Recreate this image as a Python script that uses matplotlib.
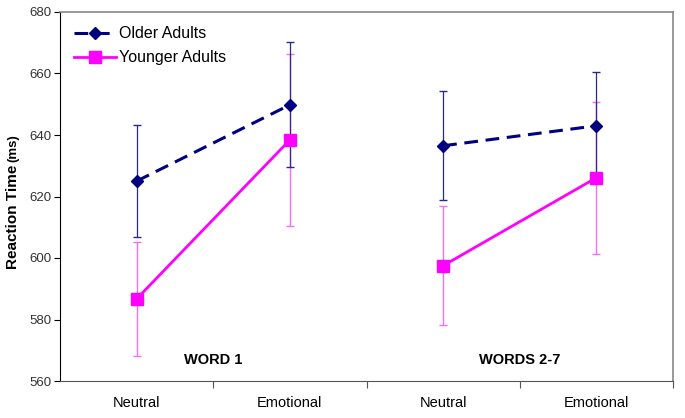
import matplotlib
matplotlib.use("Agg")
import matplotlib.pyplot as plt
import numpy as np

plt.rcParams['font.family'] = ['Liberation Sans', 'DejaVu Sans']

categories = ["Neutral", "Emotional", "Neutral", "Emotional"]
groups = ["WORD 1", "WORDS 2-7"]
older = [625.0, 649.8, 636.5, 643.0]
older_err = [18.3, 20.3, 17.8, 17.6]
younger = [586.7, 638.4, 597.5, 626.1]
younger_err = [18.5, 28.0, 19.3, 24.7]
yticks = [560, 580, 600, 620, 640, 660, 680]

navy = "#000080"
magenta = "#FF00FF"

fig = plt.figure(figsize=(6.85, 4.18), dpi=100)
ax = fig.add_axes([60/685, 37/418, 613/685, 369/418])

x = np.arange(len(categories))
for g in range(2):
    idx = slice(2*g, 2*g+2)
    ax.errorbar(x[idx], younger[idx], yerr=younger_err[idx], fmt='none',
                ecolor="#F070F0", elinewidth=1, capsize=3, capthick=1, zorder=2)
    ax.errorbar(x[idx], older[idx], yerr=older_err[idx], fmt='none',
                ecolor="#2a2a85", elinewidth=0.9, capsize=3, capthick=1, zorder=2)
    lo, = ax.plot(x[idx], older[idx], color=navy, lw=2.2, ls=(0, (4.5, 2.5)),
                  marker='D', ms=6, mfc=navy, mec=navy, zorder=4)
    ly, = ax.plot(x[idx], younger[idx], color=magenta, lw=2.0, ls='-',
                  marker='s', ms=8, mfc=magenta, mec=magenta, zorder=3)
    if g == 0:
        handles = [lo, ly]

leg = ax.legend(handles, ["Older Adults", "Younger Adults"], loc='upper left',
                frameon=False, fontsize=11.5, handlelength=2.6, handletextpad=0.2,
                borderaxespad=0.3, labelspacing=0.55, borderpad=0.6)

ax.set_xlim(-0.5, 3.5)
ax.set_ylim(560, 680)
ax.set_yticks(yticks)
ax.set_yticklabels([str(v) for v in yticks], color="#333333", fontsize=9.5)
ax.set_xticks([0.5, 1.5, 2.5, 3.5])
ax.set_xticklabels([])
ax.set_xticks(x, minor=True)
ax.set_xticklabels(categories, minor=True, fontsize=10.5)
ax.tick_params(axis='x', which='minor', length=0, pad=11)
ax.tick_params(axis='x', which='major', length=5, direction='out', color="#555555")
ax.tick_params(axis='y', length=4, direction='out', pad=2)

for sp in ['top', 'right']:
    ax.spines[sp].set_color("#888888")
    ax.spines[sp].set_linewidth(1.2)
ax.spines['left'].set_color("black")
ax.spines['bottom'].set_color("#555555")

for g, name in enumerate(groups):
    ax.text(2*g + 0.5, 564.5, name, ha='center', va='bottom', fontsize=10.5,
            fontweight='bold')

fig.text(13/685, 1 - 269/418, "Reaction Time", rotation=90, ha='center', va='bottom',
         fontsize=11, fontweight='bold')
fig.text(13/685, 1 - 162/418, "(ms)", rotation=90, ha='center', va='bottom',
         fontsize=9.5, fontweight='bold')

fig.savefig("out.png", dpi=100)
